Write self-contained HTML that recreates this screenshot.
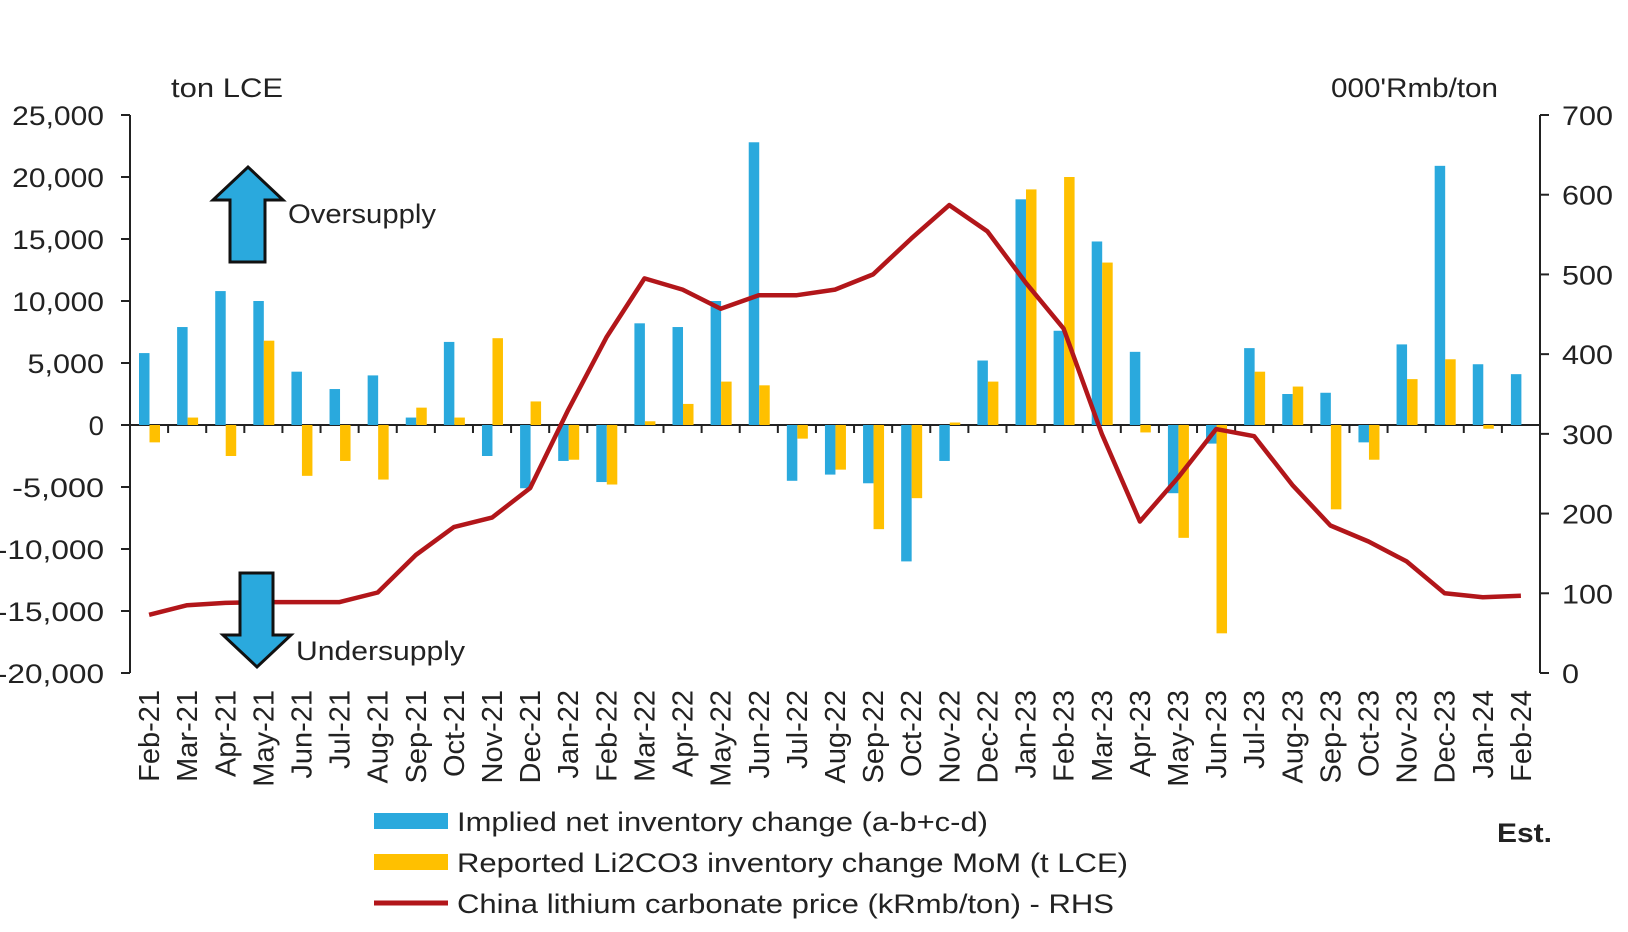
<!DOCTYPE html>
<html><head><meta charset="utf-8"><style>
html,body{margin:0;padding:0;background:#fff}
svg text{font-family:"Liberation Sans",Arial,sans-serif;fill:#222}
</style></head><body>
<svg id="chart" width="1628" height="927" viewBox="0 0 1628 927" xmlns="http://www.w3.org/2000/svg">
<g id="axes"></g>
<g id="bars"></g>
<g id="line"></g>
<g>
<polygon points="230,262 265,262 265,200 283,200 248,167 213,200 230,200" fill="#2aa9dd" stroke="#111" stroke-width="3"/>
</g>
<text x="288" y="223" font-size="27" textLength="148" lengthAdjust="spacingAndGlyphs">Oversupply</text>
<g>
<polygon points="240,573 273,573 273,635 291,635 257,667 223,635 240,635" fill="#2aa9dd" stroke="#111" stroke-width="3"/>
</g>
<text x="296" y="660" font-size="27" textLength="169" lengthAdjust="spacingAndGlyphs">Undersupply</text>
<text x="171" y="97" font-size="27" textLength="112" lengthAdjust="spacingAndGlyphs">ton LCE</text>
<text x="1331" y="97" font-size="27" textLength="167" lengthAdjust="spacingAndGlyphs">000'Rmb/ton</text>
<g>
<rect x="374" y="813" width="74" height="16" fill="#2aa9dd"/>
<text x="457" y="831" font-size="27" textLength="531" lengthAdjust="spacingAndGlyphs">Implied net inventory change (a-b+c-d)</text>
<rect x="374" y="854" width="74" height="16" fill="#ffc000"/>
<text x="457" y="872" font-size="27" textLength="671" lengthAdjust="spacingAndGlyphs">Reported Li2CO3 inventory change MoM (t LCE)</text>
<line x1="374" y1="903" x2="448" y2="903" stroke="#b2161a" stroke-width="5"/>
<text x="457" y="913" font-size="27" textLength="657" lengthAdjust="spacingAndGlyphs">China lithium carbonate price (kRmb/ton) - RHS</text>
</g>
<text x="1497" y="842" font-size="27" font-weight="bold" textLength="55" lengthAdjust="spacingAndGlyphs">Est.</text>
</svg>
<script>
const categories=["Feb-21","Mar-21","Apr-21","May-21","Jun-21","Jul-21","Aug-21","Sep-21","Oct-21","Nov-21","Dec-21","Jan-22","Feb-22","Mar-22","Apr-22","May-22","Jun-22","Jul-22","Aug-22","Sep-22","Oct-22","Nov-22","Dec-22","Jan-23","Feb-23","Mar-23","Apr-23","May-23","Jun-23","Jul-23","Aug-23","Sep-23","Oct-23","Nov-23","Dec-23","Jan-24","Feb-24"];
const impliedChange=[5800,7900,10800,10000,4300,2900,4000,600,6700,-2500,-5100,-2900,-4600,8200,7900,10000,22800,-4500,-4000,-4700,-11000,-2900,5200,18200,7600,14800,5900,-5500,-1500,6200,2500,2600,-1400,6500,20900,4900,4100];
const reportedChange=[-1400,600,-2500,6800,-4100,-2900,-4400,1400,600,7000,1900,-2800,-4800,300,1700,3500,3200,-1100,-3600,-8400,-5900,200,3500,19000,20000,13100,-600,-9100,-16800,4300,3100,-6800,-2800,3700,5300,-300,0];
const price=[73,85,88,89,89,89,101,148,183,195,232,330,421,495,481,457,474,474,481,500,545,587,554,490,432,300,190,245,306,297,236,185,165,140,100,95,97];
const leftTicks=[25000,20000,15000,10000,5000,0,-5000,-10000,-15000,-20000];
const rightTicks=[700,600,500,400,300,200,100,0];

const NS="http://www.w3.org/2000/svg";
const X0=130,X1=1540,Y0=115,Y1=673;
const band=(X1-X0)/categories.length;
const yL=v=>Y0+(25000-v)/45000*(Y1-Y0);
const yR=v=>Y0+(700-v)/700*(Y1-Y0);
const xC=i=>X0+band*(i+0.5);
function mk(tag,attrs,parent){const e=document.createElementNS(NS,tag);for(const k in attrs)e.setAttribute(k,attrs[k]);parent.appendChild(e);return e;}
const axes=document.getElementById('axes'),bars=document.getElementById('bars'),lineG=document.getElementById('line');

let a=mk('line',{x1:X0,y1:Y0,x2:X0,y2:Y1,stroke:'#222','stroke-width':2},axes);


a=mk('line',{x1:X1,y1:Y0,x2:X1,y2:Y1,stroke:'#222','stroke-width':2},axes);



leftTicks.forEach(v=>{
  const y=yL(v);
  const t=mk('line',{x1:X0-9,y1:y,x2:X0,y2:y,stroke:'#222','stroke-width':2},axes);
  
  
  const s=v.toLocaleString('en-US');
  const tx=mk('text',{x:104,y:y+10,'font-size':27,'text-anchor':'end',textLength:s.length*15.3,lengthAdjust:'spacingAndGlyphs'},axes);
  tx.textContent=s;
  
  
});
rightTicks.forEach(v=>{
  const y=yR(v);
  const t=mk('line',{x1:X1,y1:y,x2:X1+9,y2:y,stroke:'#222','stroke-width':2},axes);
  
  
  const s=String(v);
  const tx=mk('text',{x:1562,y:y+10,'font-size':27,textLength:s.length*17,lengthAdjust:'spacingAndGlyphs'},axes);
  tx.textContent=s;
  
  
});

categories.forEach((c,i)=>{
  const bx=X0+band*i;
  const b1=mk('rect',{x:bx+9,y:Math.min(yL(impliedChange[i]),yL(0)),width:10.5,height:Math.abs(yL(impliedChange[i])-yL(0)),fill:'#2aa9dd'},bars);
  
  
  const b2=mk('rect',{x:bx+19.5,y:Math.min(yL(reportedChange[i]),yL(0)),width:10.5,height:Math.abs(yL(reportedChange[i])-yL(0)),fill:'#ffc000'},bars);
  
  
  const lx=xC(i)+10;
  const tx=mk('text',{x:0,y:0,'font-size':29,'text-anchor':'end',transform:`translate(${lx},690) rotate(-90)`},axes);
  tx.textContent=c;
  
  
});
const zl=mk('line',{x1:X0,y1:yL(0),x2:X1,y2:yL(0),stroke:'#222','stroke-width':2},axes);


for(let i=1;i<categories.length;i++){
  const x=X0+band*i;
  const t=mk('line',{x1:x,y1:yL(0),x2:x,y2:yL(0)+8,stroke:'#222','stroke-width':2},axes);
  
  
}
const pts=price.map((v,i)=>xC(i).toFixed(1)+','+yR(v).toFixed(1)).join(' ');
const pl=mk('polyline',{points:pts,fill:'none',stroke:'#b2161a','stroke-width':4.5,'stroke-linejoin':'round'},lineG);


</script>
</body></html>
